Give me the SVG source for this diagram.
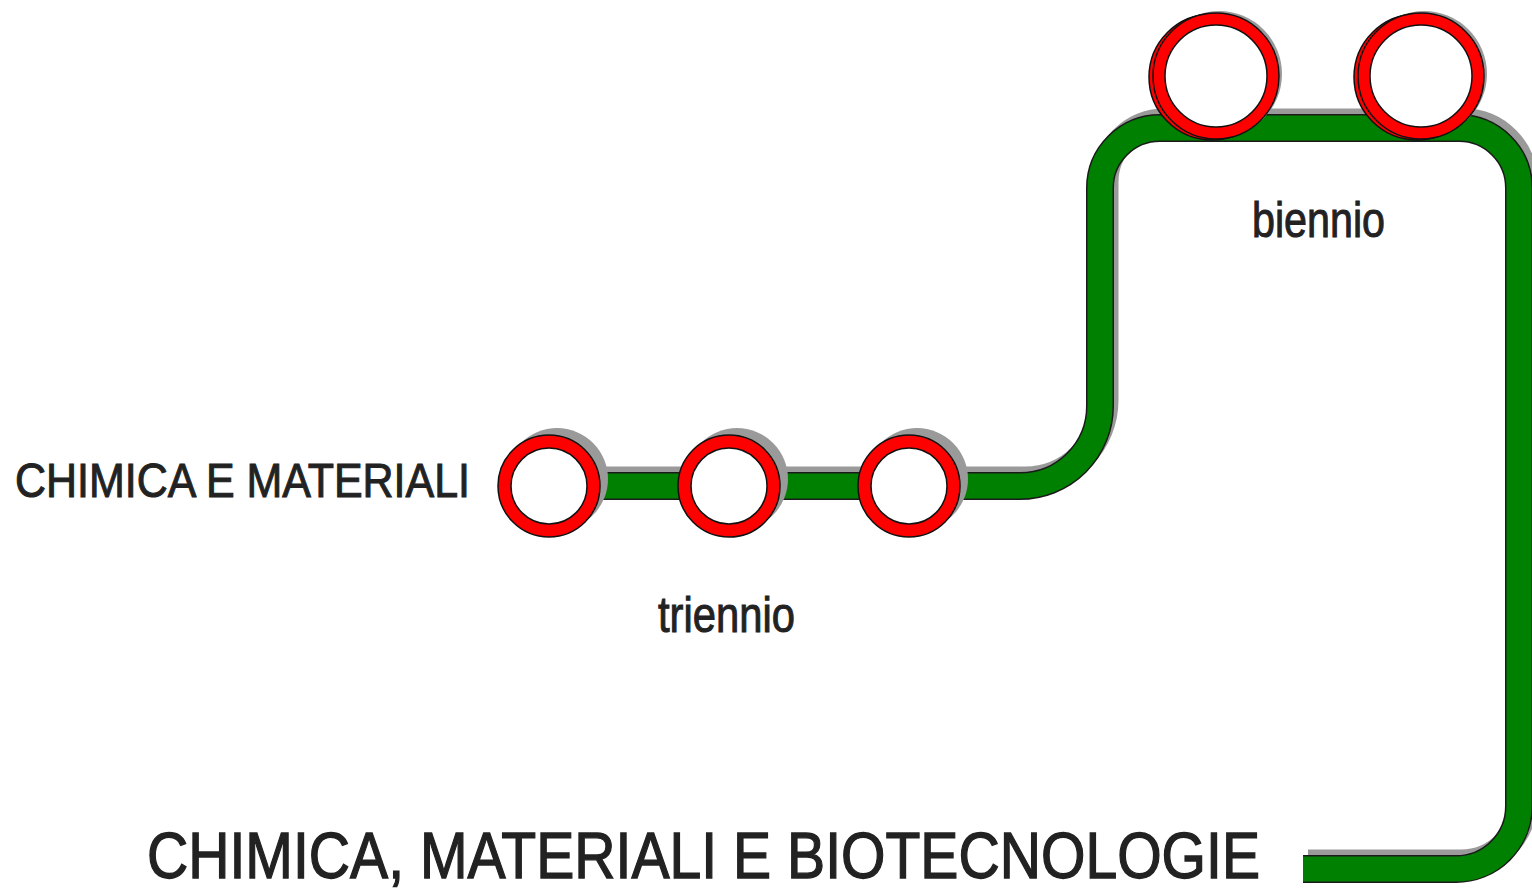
<svg xmlns="http://www.w3.org/2000/svg" width="1532" height="893" viewBox="0 0 1532 893">
<style>
.lbl{font-family:"Liberation Sans",Arial,sans-serif;fill:#222;stroke:#222;stroke-width:1;}
.big{stroke-width:1.3;}
.shadow{fill:none;stroke:#9a9a9a;stroke-width:27;}
.trackO{fill:none;stroke:#1a1a1a;stroke-width:28;}
.track{fill:none;stroke:#008000;stroke-width:25;}
.ring{fill:#fff;stroke:#ff0000;}
.edge{fill:none;stroke:#111;stroke-width:1.5;}
.cshadow{fill:#9a9a9a;}
</style>
<defs>
<path id="line" d="M 549 486 H 1020 A 80 80 0 0 0 1100 406 V 188 A 60 60 0 0 1 1160 128 H 1459 A 60 60 0 0 1 1519 188 V 806 A 63 63 0 0 1 1456 869 H 1303"/>
</defs>
<rect width="1532" height="893" fill="#fff"/>
<g id="connectors">
<use href="#line" class="shadow" transform="translate(5,-6)"/>
<use href="#line" class="trackO"/>
<use href="#line" class="track"/>
</g>
<g id="station1">
<circle class="cshadow" cx="557" cy="479" r="51"/>
<circle class="ring" cx="549" cy="486" r="44.5" stroke-width="13"/>
<circle class="edge" cx="549" cy="486" r="51"/>
<circle class="edge" cx="549" cy="486" r="38"/>
</g>
<g id="station2">
<circle class="cshadow" cx="737" cy="479" r="51"/>
<circle class="ring" cx="729" cy="486" r="44.5" stroke-width="13"/>
<circle class="edge" cx="729" cy="486" r="51"/>
<circle class="edge" cx="729" cy="486" r="38"/>
</g>
<g id="station3">
<circle class="cshadow" cx="917" cy="479" r="51"/>
<circle class="ring" cx="909" cy="486" r="44.5" stroke-width="13"/>
<circle class="edge" cx="909" cy="486" r="51"/>
<circle class="edge" cx="909" cy="486" r="38"/>
</g>
<g id="station4">
<circle class="cshadow" cx="1219" cy="74" r="63"/>
<circle class="ring" cx="1212" cy="77" r="57" stroke-width="12"/>
<circle class="edge" cx="1212" cy="77" r="63"/>
<circle class="ring" cx="1216" cy="76" r="57" stroke-width="12"/>
<circle class="edge" cx="1216" cy="76" r="63"/>
<circle class="edge" cx="1216" cy="76" r="51"/>
</g>
<g id="station5">
<circle class="cshadow" cx="1424" cy="74" r="63"/>
<circle class="ring" cx="1417" cy="77" r="57" stroke-width="12"/>
<circle class="edge" cx="1417" cy="77" r="63"/>
<circle class="ring" cx="1421" cy="76" r="57" stroke-width="12"/>
<circle class="edge" cx="1421" cy="76" r="63"/>
<circle class="edge" cx="1421" cy="76" r="51"/>
</g>
<g id="labels">
<text class="lbl" x="15" y="497" font-size="49" textLength="455" lengthAdjust="spacingAndGlyphs">CHIMICA E MATERIALI</text>
<text class="lbl" x="658" y="632" font-size="50" textLength="137" lengthAdjust="spacingAndGlyphs">triennio</text>
<text class="lbl" x="1252" y="237" font-size="50" textLength="133" lengthAdjust="spacingAndGlyphs">biennio</text>
<text class="lbl big" x="147" y="878" font-size="65" textLength="1113" lengthAdjust="spacingAndGlyphs">CHIMICA, MATERIALI E BIOTECNOLOGIE</text>
</g>
</svg>
